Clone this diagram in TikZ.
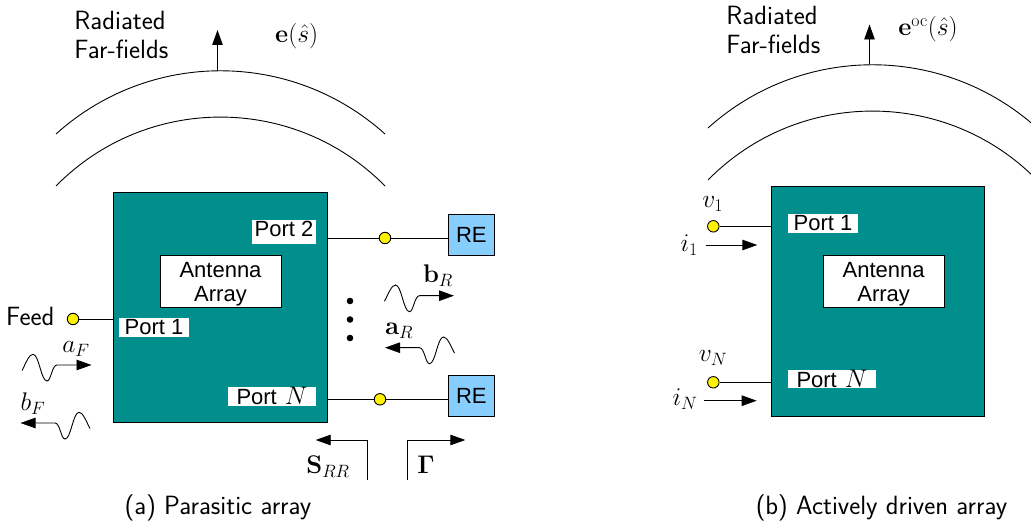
\RequirePackage{fix-cm}
\documentclass[tikz,border=0pt]{standalone}
\usepackage{amsmath,amssymb}
\usepackage[no-math]{fontspec}
\newfontfamily\portfont{Liberation Sans}
\usepackage{tikz}
\usetikzlibrary{arrows.meta,positioning}
\definecolor{arrayteal}{HTML}{008F8C}
\definecolor{ltblue}{HTML}{87CEFF}
\newcommand{\portn}{Port\hspace{8pt}{\fontsize{25.5}{29}\selectfont$N$}}

\begin{document}
\begin{tikzpicture}[
    x=1pt, y=-1pt, line width=0.9pt,
    every node/.style={font=\fontsize{25.5}{29}\selectfont, inner sep=0pt},
    arraybox/.style={draw=black, fill=arrayteal, minimum width=213.5pt, minimum height=230.7pt},
    antbox/.style={draw=black, fill=white, minimum width=121pt, minimum height=52pt, align=center, font=\portfont\fontsize{22}{24.5}\selectfont},
    port/.style={fill=white, minimum height=18.5pt, font=\portfont\fontsize{22}{25}\selectfont},
    re/.style={draw=black, fill=ltblue, minimum width=46.5pt, minimum height=41pt, font=\portfont\fontsize{22}{25}\selectfont},
    dot/.style={circle, draw=black, fill=yellow, minimum size=11.5pt},
    bullet/.style={circle, fill=black, minimum size=6.6pt},
    txt/.style={align=left, font=\sffamily\fontsize{26.4}{29}\selectfont},
    arr/.style={-{Triangle[length=15pt,width=10.5pt]}},
    wave/.pic={\draw[arr] (-35,5.5) .. controls (-31,-2) and (-28,-10.7) .. (-24,-10.7) .. controls (-18,-10.7) and (-16,16) .. (-10,16) .. controls (-6,16) and (-5,0) .. (0,0) -- (34.5,0);}
  ]
  \path[use as bounding box] (0,0) rectangle (1031,529);

  % Parasitic array
  \node[txt, anchor=north west] (radleft) at (74,11) {Radiated\\Far-fields};
  \node (eleft) at (296.7,36) {$\mathbf{e}(\hat{s})$};
  \coordinate (fieldleft) at (217.5,71);
  \coordinate (tipleft) at (217.5,30);
  \draw[arr] (fieldleft) -- (tipleft);
  \draw (56,134) .. controls (149.6,49.7) and (291.4,49.7) .. (385,134);
  \draw (56,186) .. controls (146.4,94.1) and (294.6,94.1) .. (385,186);

  \node[arraybox] (arrleft) at (220.2,307.4) {};
  \node[antbox] (antleft) at (220.5,281) {\rule{0pt}{22pt}Antenna\\Array};
  \node[port, minimum width=64.5pt, minimum height=24pt, text depth=6pt] (port2) at (284,232) {Port 2};
  \node[port, minimum width=70pt] (port1) at (154,327.5) {Port 1};
  \node[port, minimum width=88pt] (portn) at (272,396.3) {\portn};

  \node[dot] (dotfeed) at (73,319) {};
  \node[dot] (dot2) at (385,238) {};
  \node[dot] (dotn) at (380,399.3) {};
  \node[re] (re2) at (471.3,235.2) {RE};
  \node[re] (ren) at (471.3,396.3) {RE};
  \node[txt, left=12pt of dotfeed, yshift=3pt] (feed) {Feed};

  \draw (dotfeed) -- (dotfeed -| arrleft.west);
  \draw (dot2 -| arrleft.east) -- (dot2);
  \draw (dot2) -- (dot2 -| re2.west);
  \draw (dotn -| arrleft.east) -- (dotn);
  \draw (dotn) -- (dotn -| ren.west);

  \node[bullet] (b1) at (350,301) {};
  \node[bullet, below=11pt of b1] (b2) {};
  \node[bullet, below=11pt of b2] (b3) {};

  \pic at (57,365) {wave};
  \pic[xscale=-1] at (55,423) {wave};
  \pic at (419.5,295.7) {wave};
  \pic[xscale=-1] at (419.5,347.7) {wave};
  \node (af) at (76,349) {$a_F$};
  \node (bf) at (33,404) {$b_F$};
  \node (br) at (438,276) {$\mathbf{b}_R$};
  \node (ar) at (399,331) {$\mathbf{a}_R$};

  \coordinate (sfoot) at (367.7,480);
  \coordinate (stip) at (315.7,440);
  \coordinate (gfoot) at (407.3,480);
  \coordinate (gtip) at (465.3,440);
  \draw[arr] (sfoot) |- (stip);
  \draw[arr] (gfoot) |- (gtip);
  \node (srr) at (328,467) {$\mathbf{S}_{RR}$};
  \node (gam) at (426,465) {$\mathbf{\Gamma}$};

  \node[txt] (capa) at (218,508) {(a) Parasitic array};

  % Actively driven array
  \node[txt, anchor=north west] (radright) at (726,6) {Radiated\\Far-fields};
  \node (eright) at (928,29) {$\mathbf{e}^{\mathrm{oc}}(\hat{s})$};
  \coordinate (fieldright) at (869.5,64.5);
  \coordinate (tipright) at (869.5,24.5);
  \draw[arr] (fieldright) -- (tipright);
  \draw (708,128) .. controls (801.6,43.7) and (943.4,43.7) .. (1037,128);
  \draw (708,180) .. controls (798.4,88.1) and (946.6,88.1) .. (1037,180);

  \node[arraybox] (arrright) at (877.9,301.4) {};
  \node[antbox] (antright) at (883.6,281) {\rule{0pt}{22pt}Antenna\\Array};
  \node[port, minimum width=70pt] (portr1) at (823,223.5) {Port 1};
  \node[port, minimum width=88pt] (portrn) at (832,379.2) {\portn};

  \node[dot] (dotv1) at (713.3,226.3) {};
  \node[dot] (dotvn) at (713.3,382.3) {};
  \draw (dotv1) -- (dotv1 -| arrright.west);
  \draw (dotvn) -- (dotvn -| arrright.west);
  \node (v1) at (712.7,204) {$v_1$};
  \node (vn) at (713,358) {$v_N$};
  \node (i1) at (689.3,245) {$i_1$};
  \node (in) at (685,399) {$i_N$};

  \coordinate (i1tail) at (705.7,245);
  \coordinate (i1tip) at (757.3,245);
  \coordinate (intail) at (704.3,400.7);
  \coordinate (intip) at (756.7,400.7);
  \draw[arr] (i1tail) -- (i1tip);
  \draw[arr] (intail) -- (intip);

  \node[txt] (capb) at (881.5,508) {(b) Actively driven array};
\end{tikzpicture}
\end{document}
